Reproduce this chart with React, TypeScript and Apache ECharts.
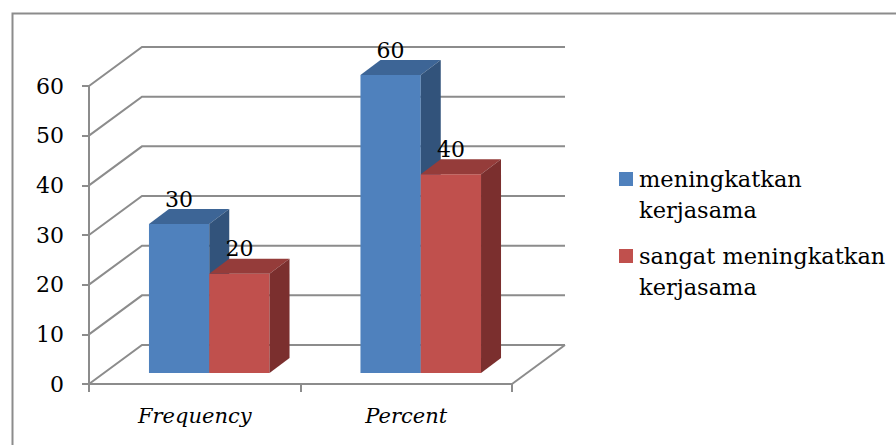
import React, { useEffect, useRef } from "react";
import * as echarts from "echarts";

// Categories, series and value axis ticks
const CATEGORIES = ["Frequency", "Percent"];
const SERIES_NAMES = ["meningkatkan kerjasama", "sangat meningkatkan kerjasama"];
const LEGEND_LINES = [
  ["meningkatkan", "kerjasama"],
  ["sangat meningkatkan", "kerjasama"],
];
const MENINGKATKAN = [30, 60];
const SANGAT_MENINGKATKAN = [20, 40];
const Y_TICKS = [0, 10, 20, 30, 40, 50, 60];

const SERIES_VALUES = [MENINGKATKAN, SANGAT_MENINGKATKAN];

// Palette: front, top and side faces of each series
const FACES = [
  { front: "#4f81bd", top: "#3d6596", side: "#32537b" },
  { front: "#c0504d", top: "#953c3a", side: "#7b2f2e" },
];

const FONT = "'DejaVu Serif', 'Liberation Serif', serif";
const GRID_COLOR = "#8c8c8c";

// 3D projection of the floor depth and of the columns
const WALL_DX = 53;
const WALL_DY = -39;
const BAR_OX = 14.5;
const BAR_OY = -11;
const BAR_DX = 20;
const BAR_DY = -15;
const BAR_SHARE = 0.285;

function wallRenderItem(params: any, api: any) {
  const sys = params.coordSys;
  const v = api.value(1);
  const y = api.coord([0, v])[1];
  const x0 = sys.x;
  const x1 = sys.x + sys.width;
  const children: any[] = [
    {
      type: "polyline",
      shape: {
        points: [
          [x0, y],
          [x0 + WALL_DX, y + WALL_DY],
          [x1 + WALL_DX, y + WALL_DY],
        ],
      },
      style: { stroke: GRID_COLOR, lineWidth: 2, fill: null },
    },
  ];
  if (v === 0) {
    children.push({
      type: "line",
      shape: { x1: x1, y1: y, x2: x1 + WALL_DX, y2: y + WALL_DY },
      style: { stroke: GRID_COLOR, lineWidth: 2 },
    });
  }
  return { type: "group", children };
}

function makeBarRenderItem(seriesIdx: number) {
  const faces = FACES[seriesIdx];
  return (params: any, api: any) => {
    const idx = api.value(0);
    const v = api.value(1);
    const base = api.coord([idx, 0]);
    const top = api.coord([idx, v]);
    const band = api.size([1, 0])[0];
    const w = band * BAR_SHARE;
    const left = base[0] + BAR_OX + (seriesIdx === 0 ? -w : 0);
    const fy0 = base[1] + BAR_OY;
    const fyv = top[1] + BAR_OY;
    return {
      type: "group",
      children: [
        {
          type: "rect",
          shape: { x: left, y: fyv, width: w, height: fy0 - fyv },
          style: { fill: faces.front },
        },
        {
          type: "polygon",
          shape: {
            points: [
              [left, fyv],
              [left + BAR_DX, fyv + BAR_DY],
              [left + w + BAR_DX, fyv + BAR_DY],
              [left + w, fyv],
            ],
          },
          style: { fill: faces.top },
        },
        {
          type: "polygon",
          shape: {
            points: [
              [left + w, fyv],
              [left + w + BAR_DX, fyv + BAR_DY],
              [left + w + BAR_DX, fy0 + BAR_DY],
              [left + w, fy0],
            ],
          },
          style: { fill: faces.side },
        },
        {
          type: "text",
          x: left + w / 2,
          y: fyv + BAR_DY - 10,
          style: {
            text: String(v),
            font: `22px ${FONT}`,
            fill: "#000",
            align: "center",
            verticalAlign: "middle",
          },
        },
      ],
    };
  };
}

export default function App() {
  const ref = useRef<HTMLDivElement>(null);

  useEffect(() => {
    if (!ref.current) return;
    const chart = echarts.init(ref.current, undefined, { renderer: "svg" });

    const legendGraphics: any[] = [];
    const legendTops = [172, 249];
    SERIES_NAMES.forEach((name, i) => {
      legendGraphics.push({
        type: "rect",
        left: 619,
        top: legendTops[i],
        shape: { width: 14, height: 14 },
        style: { fill: FACES[i].front },
        name,
      });
      legendGraphics.push({
        type: "text",
        left: 639,
        top: legendTops[i] + 7 - 16,
        style: {
          text: LEGEND_LINES[i].join("\n"),
          font: `22.5px ${FONT}`,
          lineHeight: 31,
          fill: "#000",
        },
      });
    });

    chart.setOption({
      animation: false,
      backgroundColor: "#fff",
      grid: { left: 89, top: 86, width: 423, height: 298 },
      xAxis: {
        type: "category",
        data: CATEGORIES,
        axisLine: { lineStyle: { color: GRID_COLOR, width: 2 } },
        axisTick: { show: true, length: 8, interval: 0, lineStyle: { color: GRID_COLOR, width: 2 } },
        axisLabel: {
          fontFamily: FONT,
          fontSize: 21,
          fontStyle: "italic",
          color: "#000",
          margin: 21,
        },
      },
      yAxis: {
        type: "value",
        min: Y_TICKS[0],
        max: Y_TICKS[Y_TICKS.length - 1],
        interval: 10,
        axisLine: { show: true, lineStyle: { color: GRID_COLOR, width: 2 } },
        axisTick: { show: true, length: 7, lineStyle: { color: GRID_COLOR, width: 2 } },
        splitLine: { show: false },
        axisLabel: {
          fontFamily: FONT,
          fontSize: 22,
          color: "#000",
          margin: 25,
          padding: [6, 0, 0, 0],
        },
      },
      graphic: [
        {
          type: "rect",
          left: 10,
          top: 11,
          shape: { width: 900, height: 450 },
          style: { fill: null, stroke: GRID_COLOR, lineWidth: 2 },
          silent: true,
        },
        ...legendGraphics,
      ],
      series: [
        {
          type: "custom",
          name: "walls",
          silent: true,
          clip: false,
          data: Y_TICKS.map((t) => [0, t]),
          encode: { x: 0, y: 1 },
          renderItem: wallRenderItem,
          z: 1,
        },
        ...SERIES_NAMES.map((name, i) => ({
          type: "custom",
          name,
          clip: false,
          itemStyle: { color: FACES[i].front },
          data: SERIES_VALUES[i].map((v, j) => [j, v]),
          encode: { x: 0, y: 1 },
          renderItem: makeBarRenderItem(i),
          z: 2 + i,
        })),
      ],
    });

    return () => chart.dispose();
  }, []);

  return (
    <div
      ref={ref}
      style={{ position: "fixed", left: 0, top: 0, width: 896, height: 445 }}
    />
  );
}
